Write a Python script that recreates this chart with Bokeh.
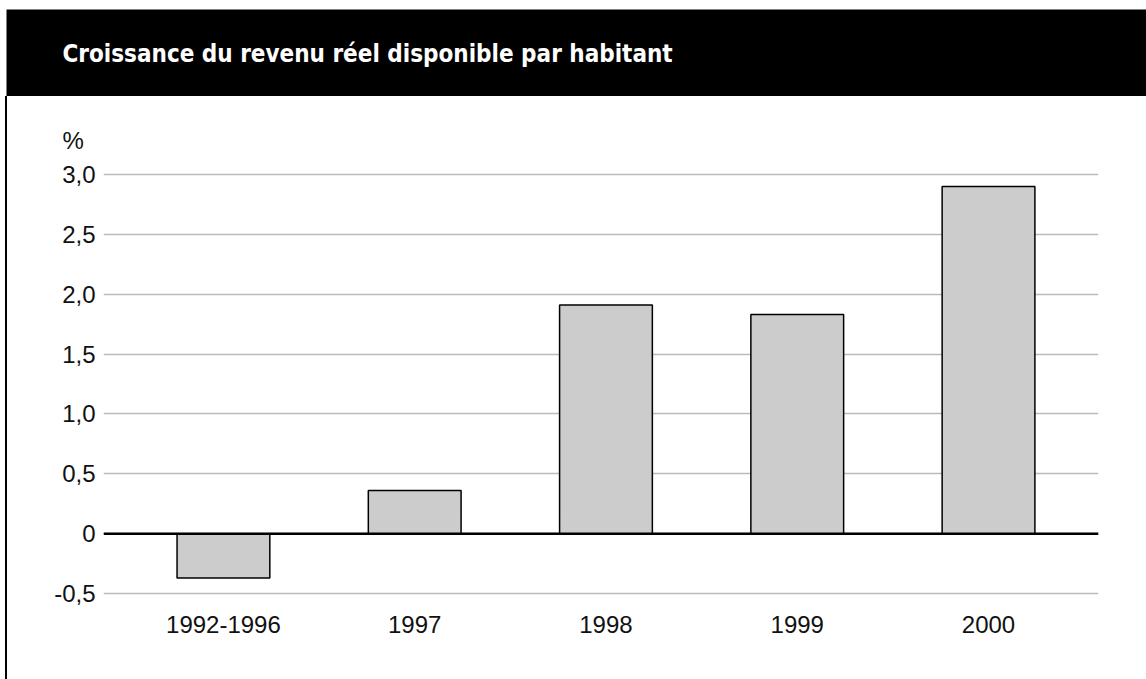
from bokeh.plotting import figure
from bokeh.layouts import column, row
from bokeh.models import Range1d, FixedTicker, Span, ColumnDataSource, Div
from bokeh.core.properties import value
from bokeh.embed import file_html
from bokeh.resources import INLINE

# Data
categories = ["1992-1996", "1997", "1998", "1999", "2000"]
growth = [-0.37, 0.36, 1.91, 1.83, 2.9]
y_ticks = [-0.5, 0.0, 0.5, 1.0, 1.5, 2.0, 2.5, 3.0]
y_tick_labels = ["-0,5", "0", "0,5", "1,0", "1,5", "2,0", "2,5", "3,0"]
title_text = "Croissance du revenu réel disponible par habitant"
unit_text = "%"

LABEL_FONT = "'Liberation Sans', Arial, Helvetica, sans-serif"
TITLE_FONT = "'Liberation Sans Narrow', 'DejaVu Sans Condensed', 'Roboto Condensed', sans-serif"

# Black header band with the title
header = figure(width=1140, height=87, x_range=Range1d(0, 1140), y_range=Range1d(87, 0),
                output_backend="svg", toolbar_location=None, min_border=0,
                background_fill_color="black", border_fill_color="black",
                outline_line_color=None)
header.axis.visible = False
header.grid.visible = False
header.text(x=[56], y=[44], text=[title_text], text_color="white",
            text_font=value(TITLE_FONT), text_font_style="bold",
            text_font_size="24px", text_baseline="alphabetic", text_align="left")
header.margin = (9, 0, 0, 6)

# Thin left border running down the page
edge = Div(text="", width=2, height=583, margin=(0, 0, 0, 5),
           styles={"background-color": "black"})

# Main bar chart
x = list(range(len(categories)))
src = ColumnDataSource(dict(x=x, top=growth))

p = figure(width=1139, height=583, output_backend="svg", toolbar_location=None,
           x_range=Range1d(-0.627, 4.575), y_range=Range1d(-0.55, 3.05),
           min_border_left=96, min_border_right=48, min_border_top=72,
           min_border_bottom=80, outline_line_color=None,
           title=unit_text, title_location="above")
p.margin = (0, 0, 0, 0)

p.vbar(x="x", top="top", bottom=0, width=0.485, source=src,
       fill_color="#cccccc", line_color="black", line_width=1.5)

p.add_layout(Span(location=0, dimension="width", line_color="black", line_width=2.5))

p.title.text_font = LABEL_FONT
p.title.text_font_size = "24px"
p.title.text_font_style = "normal"
p.title.text_color = "#111111"
p.title.align = "left"
p.title.offset = -41
p.title.standoff = 29

p.xgrid.visible = False
p.ygrid.ticker = FixedTicker(ticks=y_ticks)
p.ygrid.grid_line_color = "#bbbbbb"
p.ygrid.grid_line_width = 1.5

yax = p.yaxis[0]
yax.ticker = FixedTicker(ticks=y_ticks)
yax.major_label_overrides = {t: s for t, s in zip(y_ticks, y_tick_labels)}
yax.axis_line_color = None
yax.major_tick_line_color = None
yax.minor_tick_line_color = None
yax.major_tick_out = 0
yax.major_tick_in = 0
yax.major_label_standoff = 8
yax.major_label_text_font = LABEL_FONT
yax.major_label_text_font_size = "24px"
yax.major_label_text_color = "#111111"

xax = p.xaxis[0]
xax.ticker = FixedTicker(ticks=x)
xax.major_label_overrides = {i: c for i, c in zip(x, categories)}
xax.axis_line_color = None
xax.major_tick_line_color = None
xax.minor_tick_line_color = None
xax.major_tick_out = 0
xax.major_tick_in = 0
xax.major_label_standoff = 16
xax.major_label_text_font = LABEL_FONT
xax.major_label_text_font_size = "24px"
xax.major_label_text_color = "#111111"

layout = column(header, row(edge, p, spacing=0), spacing=0)

open("out.html", "w").write(file_html(layout, INLINE))
